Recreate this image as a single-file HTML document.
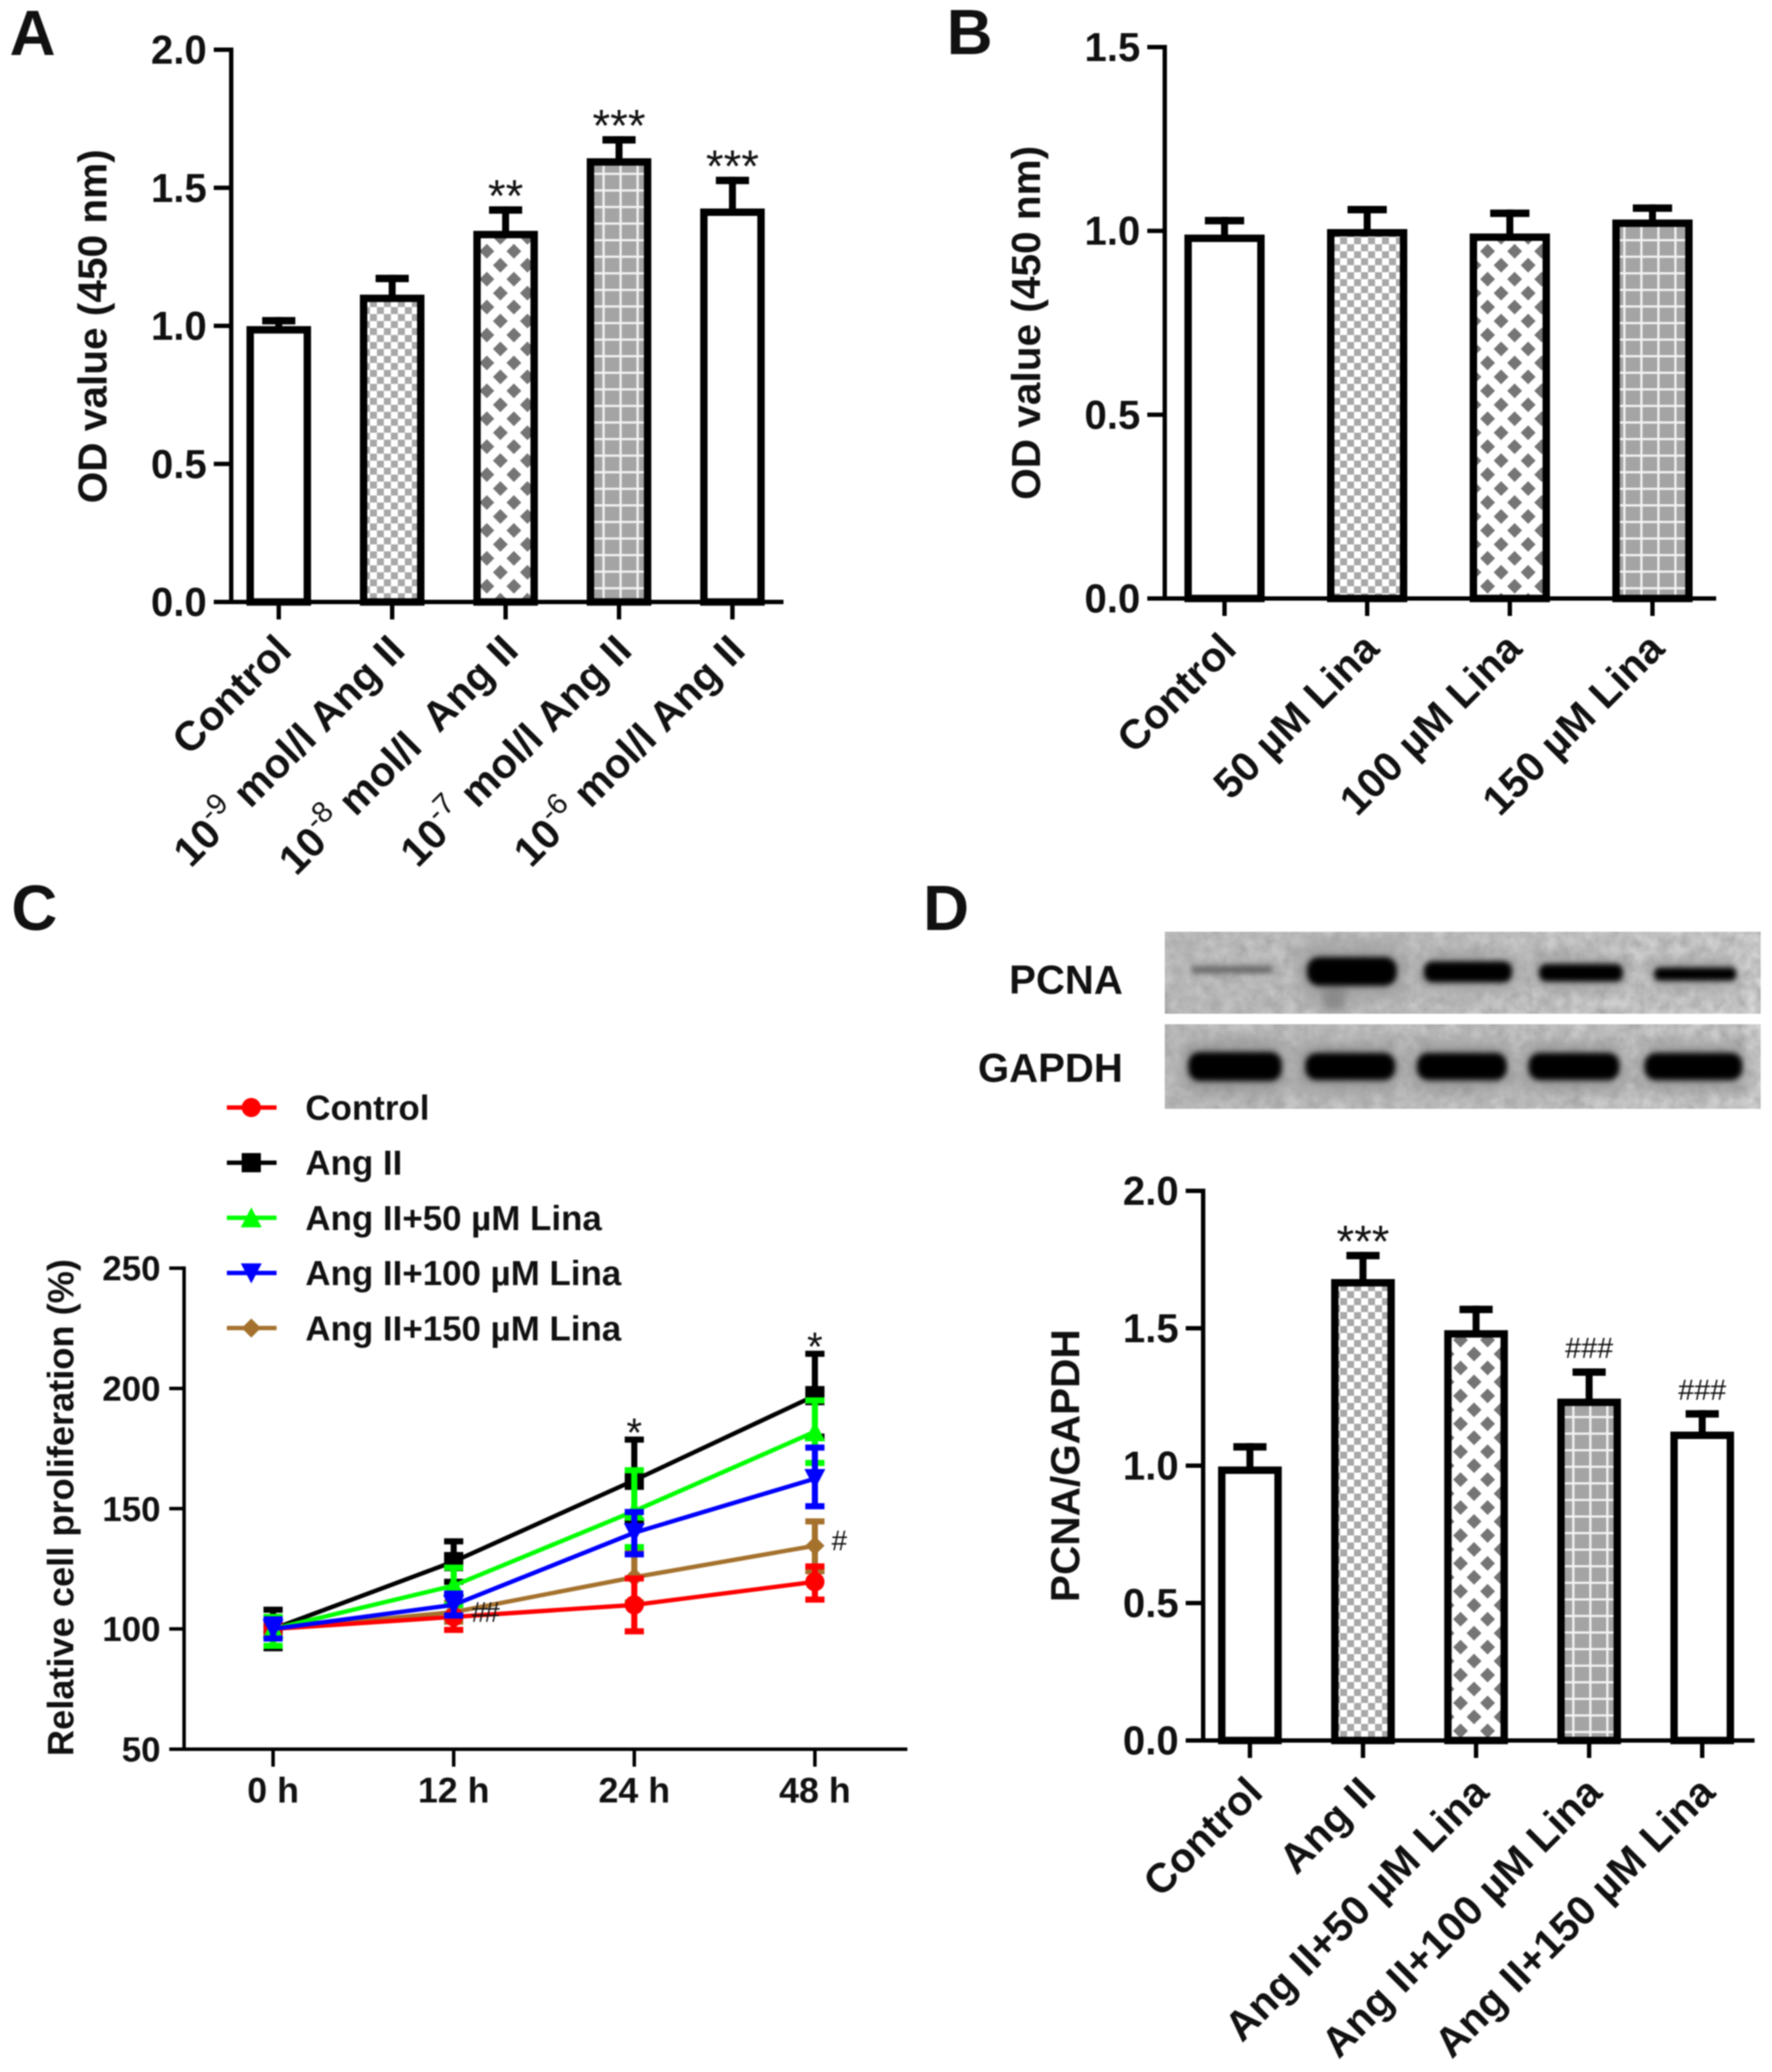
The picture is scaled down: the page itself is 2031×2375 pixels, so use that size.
<!DOCTYPE html>
<html lang="en">
<head>
<meta charset="utf-8">
<title>OD value, cell proliferation and PCNA figure</title>
<style>
html,body{margin:0;padding:0;background:#fff;}
svg{display:block;filter:blur(0.9px);}
text{font-family:"Liberation Sans",Arial,sans-serif;fill:#111;white-space:pre;}
</style>
</head>
<body>
<svg id="fig" xmlns="http://www.w3.org/2000/svg" width="2031" height="2375" viewBox="0 0 2031 2375">
  <defs>
    <pattern id="checker" width="16" height="16" patternUnits="userSpaceOnUse">
      <rect width="16" height="16" fill="#ffffff"/>
      <rect width="8" height="8" fill="#a8a8a8"/>
      <rect x="8" y="8" width="8" height="8" fill="#a8a8a8"/>
    </pattern>
    <pattern id="diamond" width="31" height="32" patternUnits="userSpaceOnUse">
      <rect width="31" height="32" fill="#ffffff"/>
      <polygon points="15.5,7.5 24,16 15.5,24.5 7,16" fill="#757575"/>
      <polygon points="0,-8.5 8.5,0 0,8.5 -8.5,0" fill="#757575"/>
      <polygon points="31,-8.5 39.5,0 31,8.5 22.5,0" fill="#757575"/>
      <polygon points="0,23.5 8.5,32 0,40.5 -8.5,32" fill="#757575"/>
      <polygon points="31,23.5 39.5,32 31,40.5 22.5,32" fill="#757575"/>
    </pattern>
    <pattern id="grid" width="19.5" height="19" patternUnits="userSpaceOnUse">
      <rect width="19.5" height="19" fill="#a4a4a4"/>
      <rect x="8" width="2.6" height="19" fill="#f2f2f2"/>
      <rect y="8" width="19.5" height="2.6" fill="#f2f2f2"/>
    </pattern>
    <filter id="band-blur" x="-20%" y="-80%" width="140%" height="260%"><feGaussianBlur stdDeviation="3.2"/></filter>
    <filter id="smear-blur" x="-60%" y="-60%" width="220%" height="220%"><feGaussianBlur stdDeviation="5"/></filter>
    <filter id="halo-blur" x="-30%" y="-100%" width="160%" height="300%"><feGaussianBlur stdDeviation="11"/></filter>
    <filter id="blot-noise" x="0" y="0" width="100%" height="100%">
      <feTurbulence type="fractalNoise" baseFrequency="0.07" numOctaves="3" seed="7"/>
      <feColorMatrix type="matrix" values="0 0 0 0 0.35  0 0 0 0 0.35  0 0 0 0 0.35  0.9 0.9 0 0 -0.55"/>
    </filter>
    <linearGradient id="blot-bg" x1="0" x2="1" y1="0" y2="0">
      <stop offset="0" stop-color="#c2c2c2"/>
      <stop offset="0.5" stop-color="#c9c9c9"/>
      <stop offset="1" stop-color="#d6d6d6"/>
    </linearGradient>
    <clipPath id="blot-row-1"><rect x="1335" y="1068" width="683" height="94"/></clipPath>
    <clipPath id="blot-row-2"><rect x="1335" y="1174" width="683" height="97"/></clipPath>
  </defs>

  <g id="panel-a">
    <text x="11" y="63" font-size="73" font-weight="700">A</text>
  </g>
  <g id="panel-b">
    <text x="1085" y="62" font-size="73" font-weight="700">B</text>
  </g>
  <g id="panel-c">
    <text x="13" y="1066" font-size="73" font-weight="700">C</text>
  </g>
  <g id="panel-d">
    <text x="1058" y="1066" font-size="73" font-weight="700">D</text>
    <g>
      <text x="1287" y="1139" font-size="46" font-weight="700" text-anchor="end">PCNA</text>
      <text x="1287" y="1240" font-size="46" font-weight="700" text-anchor="end">GAPDH</text>
      <g clip-path="url(#blot-row-1)">
        <rect x="1335" y="1068" width="683" height="94" fill="url(#blot-bg)"/>
        <rect x="1335" y="1068" width="683" height="94" filter="url(#blot-noise)"/>
        <g filter="url(#halo-blur)" fill="#9a9a9a">
          <rect x="1490" y="1085" width="118" height="58"/>
          <rect x="1628" y="1095" width="108" height="38"/>
          <rect x="1760" y="1098" width="104" height="34"/>
          <rect x="1892" y="1102" width="100" height="28"/>
        </g>
        <rect x="1516" y="1128" width="26" height="30" fill="#8a8a8a" filter="url(#smear-blur)"/>
        <g filter="url(#band-blur)">
          <rect x="1365" y="1107" width="94" height="9" rx="4" fill="#6a6a6a"/>
          <rect x="1498" y="1097" width="103" height="33" rx="14" fill="#000"/>
          <rect x="1632" y="1102" width="101" height="24" rx="10" fill="#000"/>
          <rect x="1764" y="1105" width="96" height="20" rx="8" fill="#000"/>
          <rect x="1896" y="1109" width="94" height="15" rx="6" fill="#000"/>
        </g>
      </g>
      <g clip-path="url(#blot-row-2)">
        <rect x="1335" y="1174" width="683" height="97" fill="url(#blot-bg)"/>
        <rect x="1335" y="1174" width="683" height="97" filter="url(#blot-noise)"/>
        <g filter="url(#halo-blur)" fill="#8f8f8f">
          <rect x="1358" y="1196" width="114" height="54"/>
          <rect x="1492" y="1198" width="110" height="50"/>
          <rect x="1620" y="1198" width="110" height="50"/>
          <rect x="1748" y="1198" width="112" height="50"/>
          <rect x="1882" y="1198" width="118" height="50"/>
        </g>
        <g filter="url(#band-blur)" fill="#000">
          <rect x="1362" y="1206" width="107" height="33" rx="13"/>
          <rect x="1496" y="1207" width="103" height="31" rx="13"/>
          <rect x="1624" y="1207" width="103" height="31" rx="13"/>
          <rect x="1752" y="1207" width="104" height="31" rx="13"/>
          <rect x="1885" y="1207" width="112" height="31" rx="13"/>
        </g>
      </g>
    </g>
  </g>
</svg>

<script>
// Panel A data
const aCategories = ['Control', 'mol/l Ang II', 'mol/l  Ang II', 'mol/l Ang II', 'mol/l Ang II'];
const aExponents = ['', '-9', '-8', '-7', '-6'];
const aValues = [0.999, 1.113, 1.344, 1.607, 1.425];
const aErrors = [1.032, 1.185, 1.433, 1.687, 1.54];
const aTicks = ['0.0', '0.5', '1.0', '1.5', '2.0'];
const aMarks = ['', '', '**', '***', '***'];

// Panel B data
const bCategories = ['Control', '50 \u00B5M Lina', '100 \u00B5M Lina', '150 \u00B5M Lina'];
const bValues = [0.99, 1.005, 0.993, 1.031];
const bErrors = [1.038, 1.068, 1.058, 1.072];
const bTicks = ['0.0', '0.5', '1.0', '1.5'];

// Panel D data
const dCategories = ['Control', 'Ang II', 'Ang II+50 \u00B5M Lina', 'Ang II+100 \u00B5M Lina', 'Ang II+150 \u00B5M Lina'];
const dValues = [0.997, 1.679, 1.493, 1.244, 1.124];
const dErrors = [1.082, 1.778, 1.582, 1.354, 1.202];
const dTicks = ['0.0', '0.5', '1.0', '1.5', '2.0'];
const dMarks = ['', '***', '', '###', '###'];

// Panel C data
const cTimes = ['0 h', '12 h', '24 h', '48 h'];
const cTicks = ['50', '100', '150', '200', '250'];
const controlValues = [100, 105, 110, 119.6];
const controlUpper = [103, 110, 121, 126];
const controlLower = [97, 99.6, 99, 112.2];
const angValues = [100, 128, 161.8, 197];
const angUpper = [108, 136.4, 178.7, 214.4];
const angLower = [92, 119.6, 145, 180];
const lina50Values = [100, 118, 149, 182];
const lina50Upper = [105, 125.5, 166, 195];
const lina50Lower = [93, 110, 134, 169];
const lina100Values = [100, 110, 140, 162.5];
const lina100Upper = [104, 114.7, 148.6, 175.4];
const lina100Lower = [96, 105.6, 131, 151];
const lina150Values = [100, 107, 121.5, 134.6];
const lina150Upper = [103, 111, 132, 144.7];
const lina150Lower = [97, 103, 111, 124];

const NS = 'http://www.w3.org/2000/svg';
function mk(tag, parent, attrs, content) {
  const e = document.createElementNS(NS, tag);
  for (const k in attrs) e.setAttribute(k, attrs[k]);
  if (content !== undefined) e.textContent = content;
  parent.appendChild(e);
  return e;
}

function drawBarChart(opts) {
  const p = document.getElementById(opts.panel);
  const yScale = function (v) { return opts.y0 - (v - opts.yMin) * (opts.y0 - opts.yTop) / (opts.yMax - opts.yMin); };
  const xScale = function (i) { return opts.xFirst + i * opts.xStep; };

  opts.values.forEach(function (v, i) {
    const cx = xScale(i);
    const sw = 8.5;
    const top = yScale(v);
    const errTop = yScale(opts.errors[i]);

    const stem = mk('rect', p, { x: cx - 4, y: errTop, width: 8, height: top - errTop + 2, fill: '#000' });
    
    
    const cap = mk('rect', p, { x: cx - opts.capW / 2, y: errTop, width: opts.capW, height: 8.5, fill: '#000' });
    
    

    const bar = mk('rect', p, {
      x: cx - opts.barW / 2 + sw / 2, y: top + sw / 2,
      width: opts.barW - sw, height: opts.y0 - top - sw / 2,
      fill: opts.fills[i % opts.fills.length], stroke: '#000', 'stroke-width': sw
    });
    
    

    const mark = opts.marks ? opts.marks[i] : '';
    if (mark) {
      const isHash = mark.charAt(0) === '#';
      const t = mk('text', p, {
        x: cx, y: isHash ? errTop - 12 : errTop + 6,
        'font-size': isHash ? 33 : 52, 'text-anchor': 'middle'
      }, mark);
      
      
    }

    const tick = mk('line', p, { x1: cx, x2: cx, y1: opts.y0, y2: opts.y0 + 20, stroke: '#000', 'stroke-width': 5 });
    
    

    const ax = cx + opts.labelDx;
    const ay = opts.y0 + opts.labelDy;
    const lab = mk('text', p, {
      x: ax, y: ay, 'font-size': 47.5, 'font-weight': 700, 'text-anchor': 'end',
      transform: 'rotate(-45 ' + ax + ' ' + ay + ')'
    });
    
    
    const exp = opts.exponents ? opts.exponents[i] : '';
    if (exp) {
      mk('tspan', lab, {}, '10');
      mk('tspan', lab, { dy: -20, 'font-size': 34, 'font-weight': 400 }, exp);
      mk('tspan', lab, { dy: 20 }, ' ' + opts.categories[i]);
    } else {
      lab.textContent = opts.categories[i];
    }
  });

  opts.ticks.forEach(function (label) {
    const y = yScale(parseFloat(label));
    const tick = mk('line', p, { x1: opts.axisX - 20, x2: opts.axisX, y1: y, y2: y, stroke: '#000', 'stroke-width': 5 });
    
    
    const t = mk('text', p, { x: opts.axisX - 28, y: y + 16, 'font-size': 46, 'font-weight': 700, 'text-anchor': 'end' }, label);
    
    
  });

  const yAxis = mk('line', p, { x1: opts.axisX, x2: opts.axisX, y1: opts.yTop - 2.5, y2: opts.y0 + 2.5, stroke: '#000', 'stroke-width': 5 });
  
  
  const xAxis = mk('line', p, { x1: opts.axisX - 20, x2: opts.xEnd, y1: opts.y0, y2: opts.y0, stroke: '#000', 'stroke-width': 5 });
  
  

  const title = mk('text', p, {
    x: opts.titleX, y: opts.titleY, 'font-size': 46.5, 'font-weight': 700, 'text-anchor': 'middle',
    transform: 'rotate(-90 ' + opts.titleX + ' ' + opts.titleY + ')'
  }, opts.title);
  
  
}

drawBarChart({
  panel: 'panel-a', categories: aCategories, exponents: aExponents, values: aValues, errors: aErrors,
  ticks: aTicks, marks: aMarks, yMin: 0, yMax: 2, y0: 690, yTop: 57, axisX: 265, xEnd: 898,
  xFirst: 319.5, xStep: 130, barW: 74, capW: 38, labelDx: 17, labelDy: 58,
  fills: ['#ffffff', 'url(#checker)', 'url(#diamond)', 'url(#grid)', '#ffffff'],
  title: 'OD value (450 nm)', titleX: 122, titleY: 374
});
drawBarChart({
  panel: 'panel-b', categories: bCategories, values: bValues, errors: bErrors,
  ticks: bTicks, yMin: 0, yMax: 1.5, y0: 686, yTop: 54, axisX: 1335, xEnd: 1967,
  xFirst: 1403.5, xStep: 163.5, barW: 92, capW: 45, labelDx: 16, labelDy: 60,
  fills: ['#ffffff', 'url(#checker)', 'url(#diamond)', 'url(#grid)'],
  title: 'OD value (450 nm)', titleX: 1192, titleY: 370
});
drawBarChart({
  panel: 'panel-d', categories: dCategories, values: dValues, errors: dErrors,
  ticks: dTicks, marks: dMarks, yMin: 0, yMax: 2, y0: 1995, yTop: 1365, axisX: 1379, xEnd: 2011,
  xFirst: 1432.6, xStep: 129.6, barW: 73, capW: 38, labelDx: 17, labelDy: 62,
  fills: ['#ffffff', 'url(#checker)', 'url(#diamond)', 'url(#grid)', '#ffffff'],
  title: 'PCNA/GAPDH', titleX: 1237, titleY: 1680
});

// Panel C: line chart
(function () {
  const p = document.getElementById('panel-c');
  const yScale = function (v) { return 2005 - (v - 50) * 2.757; };
  const xScale = function (i) { return 313 + i * 207; };

  function markerShape(parent, kind, x, y, color) {
    const s = 11;
    if (kind === 'circle') return mk('circle', parent, { cx: x, cy: y, r: s, fill: color });
    if (kind === 'square') return mk('rect', parent, { x: x - s, y: y - s, width: 2 * s, height: 2 * s, fill: color });
    let pts;
    if (kind === 'up') pts = [[x, y - s - 1], [x + s + 1, y + s], [x - s - 1, y + s]];
    if (kind === 'down') pts = [[x, y + s + 1], [x + s + 1, y - s], [x - s - 1, y - s]];
    if (kind === 'diamond') pts = [[x, y - s], [x + s, y], [x, y + s], [x - s, y]];
    return mk('polygon', parent, { points: pts.map(function (q) { return q.join(','); }).join(' '), fill: color });
  }

  function drawSeries(name, values, upper, lower, color, kind) {
    const g = mk('g', p, {});
    
    
    values.forEach(function (v, i) {
      const x = xScale(i);
      const stem = mk('line', g, { x1: x, x2: x, y1: yScale(upper[i]), y2: yScale(lower[i]), stroke: color, 'stroke-width': 7 });
      
      
      const capTop = mk('line', g, { x1: x - 11, x2: x + 11, y1: yScale(upper[i]), y2: yScale(upper[i]), stroke: color, 'stroke-width': 7 });
      
      
      const capBottom = mk('line', g, { x1: x - 11, x2: x + 11, y1: yScale(lower[i]), y2: yScale(lower[i]), stroke: color, 'stroke-width': 7 });
      
      
    });
    const line = mk('polyline', g, {
      points: values.map(function (v, i) { return xScale(i) + ',' + yScale(v); }).join(' '),
      fill: 'none', stroke: color, 'stroke-width': 5
    });
    
    
    values.forEach(function (v, i) {
      const m = markerShape(g, kind, xScale(i), yScale(v), color);
      
      
    });
  }

  drawSeries('ang-ii', angValues, angUpper, angLower, '#000000', 'square');
  drawSeries('lina-150', lina150Values, lina150Upper, lina150Lower, '#a5722e', 'diamond');
  drawSeries('control', controlValues, controlUpper, controlLower, '#ff0000', 'circle');
  drawSeries('lina-50', lina50Values, lina50Upper, lina50Lower, '#00ff00', 'up');
  drawSeries('lina-100', lina100Values, lina100Upper, lina100Lower, '#0000ff', 'down');

  cTicks.forEach(function (label) {
    const y = yScale(parseFloat(label));
    const tick = mk('line', p, { x1: 194, x2: 211, y1: y, y2: y, stroke: '#000', 'stroke-width': 4 });
    
    
    const t = mk('text', p, { x: 184, y: y + 14, 'font-size': 40, 'font-weight': 700, 'text-anchor': 'end' }, label);
    
    
  });
  cTimes.forEach(function (label, i) {
    const x = xScale(i);
    const tick = mk('line', p, { x1: x, x2: x, y1: 2005, y2: 2025, stroke: '#000', 'stroke-width': 4 });
    
    
    const t = mk('text', p, { x: x, y: 2066, 'font-size': 41, 'font-weight': 700, 'text-anchor': 'middle' }, label);
    
    
  });

  const yAxis = mk('line', p, { x1: 211, x2: 211, y1: yScale(250) - 2, y2: 2007, stroke: '#000', 'stroke-width': 4 });
  
  
  const xAxis = mk('line', p, { x1: 194, x2: 1040, y1: 2005, y2: 2005, stroke: '#000', 'stroke-width': 4 });
  
  

  const title = mk('text', p, {
    x: 84, y: 1728, 'font-size': 41.5, 'font-weight': 700, 'text-anchor': 'middle',
    transform: 'rotate(-90 84 1728)'
  }, 'Relative cell proliferation (%)');
  
  

  const star24 = mk('text', p, { x: xScale(2), y: yScale(angUpper[2]) + 8, 'font-size': 46, 'text-anchor': 'middle' }, '*');
  
  
  const star48 = mk('text', p, { x: xScale(3), y: yScale(angUpper[3]) + 8, 'font-size': 46, 'text-anchor': 'middle' }, '*');
  
  
  const hash48 = mk('text', p, { x: xScale(3) + 28, y: yScale(lina150Values[3]) + 5, 'font-size': 32, 'text-anchor': 'middle' }, '#');
  
  
  const hash12 = mk('text', p, { x: xScale(1) + 35, y: yScale(lina150Values[1]) + 11, 'font-size': 32, 'text-anchor': 'middle', 'letter-spacing': -3 }, '##');
  
  

  // Legend
  const legendLabels = ['Control', 'Ang II', 'Ang II+50 \u00B5M Lina', 'Ang II+100 \u00B5M Lina', 'Ang II+150 \u00B5M Lina'];
  const legendColors = ['#ff0000', '#000000', '#00ff00', '#0000ff', '#a5722e'];
  const legendKinds = ['circle', 'square', 'up', 'down', 'diamond'];
  legendLabels.forEach(function (label, i) {
    const y = 1269.5 + i * 63.2;
    const g = mk('g', p, {});
    
    
    mk('line', g, { x1: 260, x2: 317, y1: y, y2: y, stroke: legendColors[i], 'stroke-width': 5 });
    markerShape(g, legendKinds[i], 288, y, legendColors[i]);
    mk('text', g, { x: 350, y: y + 14, 'font-size': 40, 'font-weight': 700 }, label);
  });
})();
</script>
</body>
</html>
